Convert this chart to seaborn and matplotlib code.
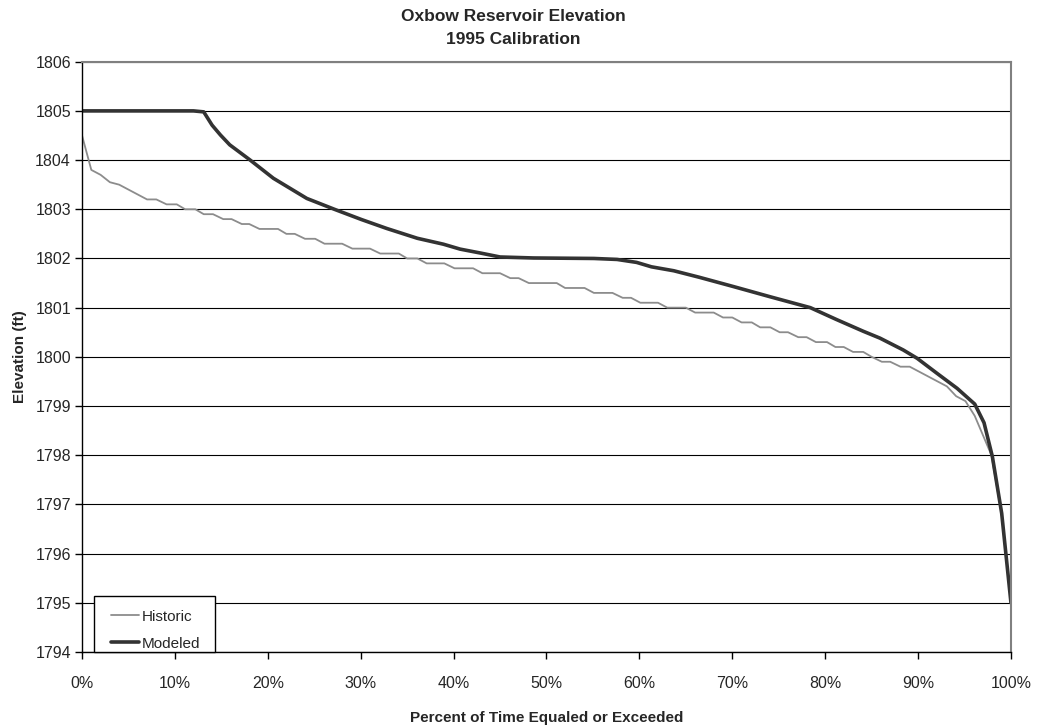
import numpy as np
import pandas as pd
import seaborn as sns
from matplotlib import pyplot as plt
from matplotlib.patches import Rectangle
from matplotlib.ticker import PercentFormatter, MultipleLocator

# Historic elevation duration curve (percent of time, ft)
hist_pct = [0.0, 1.0, 2.0, 3.0, 4.0, 7.0, 8.0, 9.1, 10.2, 11.1, 12.2, 13.1,
            14.1, 15.2, 16.1, 17.2, 18.0, 19.1, 21.1, 22.0, 22.9, 24.0, 25.1,
            26.1, 28.0, 29.1, 31.0, 32.1, 34.1, 35.0, 36.1, 37.1, 39.0, 40.1,
            42.1, 43.1, 45.0, 46.1, 47.0, 48.1, 51.1, 52.0, 54.1, 55.1, 57.1,
            58.2, 59.1, 60.1, 62.0, 63.0, 65.0, 66.0, 68.0, 69.0, 70.0, 71.0,
            72.1, 73.0, 74.1, 75.1, 76.0, 77.1, 78.0, 79.0, 80.2, 81.1, 82.0,
            83.0, 84.1, 85.0, 86.1, 87.0, 88.1, 89.1, 93.1, 94.1, 95.1, 96.1,
            97.0, 97.9, 99.0, 100.0]
hist_elev = [1804.5, 1803.8, 1803.7, 1803.55, 1803.5, 1803.2, 1803.2, 1803.1,
             1803.1, 1803.0, 1803.0, 1802.9, 1802.9, 1802.8, 1802.8, 1802.7,
             1802.7, 1802.6, 1802.6, 1802.5, 1802.5, 1802.4, 1802.4, 1802.3,
             1802.3, 1802.2, 1802.2, 1802.1, 1802.1, 1802.0, 1802.0, 1801.9,
             1801.9, 1801.8, 1801.8, 1801.7, 1801.7, 1801.6, 1801.6, 1801.5,
             1801.5, 1801.4, 1801.4, 1801.3, 1801.3, 1801.2, 1801.2, 1801.1,
             1801.1, 1801.0, 1801.0, 1800.9, 1800.9, 1800.8, 1800.8, 1800.7,
             1800.7, 1800.6, 1800.6, 1800.5, 1800.5, 1800.4, 1800.4, 1800.3,
             1800.3, 1800.2, 1800.2, 1800.1, 1800.1, 1800.0, 1799.9, 1799.9,
             1799.8, 1799.8, 1799.4, 1799.2, 1799.1, 1798.8, 1798.4, 1798.0,
             1796.8, 1795.0]

# Modeled elevation duration curve
mod_pct = [0.0, 12.0, 13.1, 14.0, 14.9, 15.9, 18.1, 20.6, 24.2, 27.3, 30.1,
           32.8, 36.1, 38.9, 40.7, 42.9, 45.0, 48.6, 55.1, 57.6, 59.7, 61.3,
           63.7, 66.4, 70.1, 74.1, 78.4, 81.2, 84.1, 85.9, 88.4, 89.9, 92.0,
           94.2, 96.1, 97.1, 98.0, 99.0, 100.0]
mod_elev = [1805.0, 1805.0, 1804.98, 1804.71, 1804.51, 1804.31, 1804.0,
            1803.63, 1803.22, 1802.99, 1802.79, 1802.61, 1802.41, 1802.29,
            1802.19, 1802.11, 1802.03, 1802.01, 1802.0, 1801.98, 1801.92,
            1801.83, 1801.75, 1801.62, 1801.43, 1801.22, 1801.0, 1800.76,
            1800.52, 1800.38, 1800.14, 1799.97, 1799.67, 1799.36, 1799.04,
            1798.66, 1797.97, 1796.82, 1795.0]

hist = pd.DataFrame({'pct': np.array(hist_pct) / 100, 'elev': hist_elev})
mod = pd.DataFrame({'pct': np.array(mod_pct) / 100, 'elev': mod_elev})

sns.set_style('white')
plt.rcParams['font.family'] = ['Liberation Sans', 'DejaVu Sans']

fig = plt.figure(figsize=(10.37, 7.25), dpi=100)
ax = fig.add_axes([0.0791, 0.1007, 0.8958, 0.8142])

sns.lineplot(data=hist, x='pct', y='elev', ax=ax, color='#8c8c8c',
             linewidth=1.3, label='Historic', sort=False, estimator=None)
sns.lineplot(data=mod, x='pct', y='elev', ax=ax, color='#333333',
             linewidth=2.6, label='Modeled', sort=False, estimator=None)

ax.set_xlim(0, 1)
ax.set_ylim(1794, 1806)
ax.xaxis.set_major_locator(MultipleLocator(0.1))
ax.xaxis.set_major_formatter(PercentFormatter(1.0, decimals=0))
ax.yaxis.set_major_locator(MultipleLocator(1))
ax.yaxis.set_major_formatter(lambda v, p: f'{v:.0f}')

ax.grid(axis='y', color='black', linewidth=0.8)
ax.grid(axis='x', visible=False)
ax.set_axisbelow(True)
ax.tick_params(axis='both', direction='out', length=5, width=1,
               color='black', labelsize=11.5, left=True, bottom=True)
ax.tick_params(axis='y', pad=3)
ax.tick_params(axis='x', pad=12)
for side in ['left', 'bottom']:
    ax.spines[side].set_color('black')
    ax.spines[side].set_linewidth(1)
for side in ['top', 'right']:
    ax.spines[side].set_color('#808080')
    ax.spines[side].set_linewidth(1.5)

ax.set_xlabel('Percent of Time Equaled or Exceeded', fontsize=11,
              fontweight='bold', labelpad=15)
ax.set_ylabel('Elevation (ft)', fontsize=11, fontweight='bold', labelpad=6)
fig.text(0.495, 0.988, 'Oxbow Reservoir Elevation\n1995 Calibration',
         ha='center', va='top', fontsize=12.5, fontweight='bold',
         linespacing=1.65)

# legend box sits on the bottom axis like the original
ax.add_patch(Rectangle((0.0129, 0.0), 0.1302, 0.0949, transform=ax.transAxes,
                       facecolor='white', edgecolor='black', linewidth=1,
                       zorder=4, clip_on=False))
leg = ax.legend(loc='center left', bbox_to_anchor=(0.031, 0.037),
                fontsize=11, frameon=False, handlelength=1.85,
                borderaxespad=0, borderpad=0, labelspacing=0.85,
                handletextpad=0.2)
leg.set_zorder(5)

fig.savefig('out.png', dpi=100)
